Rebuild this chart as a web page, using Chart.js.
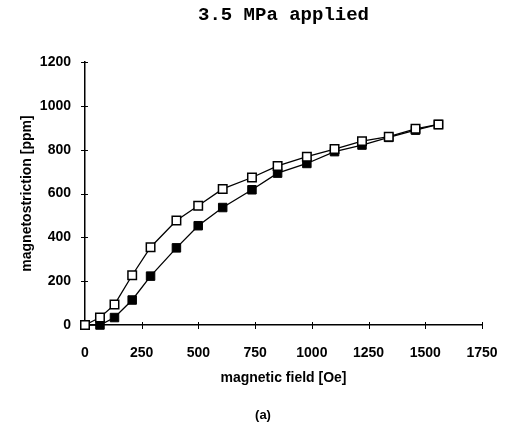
<!DOCTYPE html>
<html>
<head>
<meta charset="utf-8">
<title>3.5 MPa applied</title>
<script src="https://cdn.jsdelivr.net/npm/chart.js@4/dist/chart.umd.min.js"></script>
<style>
    html, body { margin: 0; padding: 0; background: #fff; overflow: hidden; }
    #wrap { width: 505px; height: 425px; position: relative; }
    #magChart { display: block; }
</style>
</head>
<body>
<div id="wrap"><canvas id="magChart"></canvas></div>
<script>
// ========================================
// DATA
// ========================================

const fieldOe = [0, 66, 130, 208, 289, 403, 499, 607, 736, 849, 978, 1100, 1221, 1339, 1457, 1558];
const openSeries = [0, 34, 93, 227, 355, 477, 544, 621, 673, 726, 768, 803, 839, 859, 895, 915];
const filledSeries = [0, 0, 34, 114, 223, 352, 453, 536, 617, 693, 737, 791, 821, 856, 889, 915];

const xTicks = [0, 250, 500, 750, 1000, 1250, 1500, 1750];
const yTicks = [0, 200, 400, 600, 800, 1000, 1200];

const chartTitle = '3.5 MPa applied';
const xTitle = 'magnetic field [Oe]';
const yTitle = 'magnetostriction [ppm]';
const caption = '(a)';

// ========================================
// HELPERS
// ========================================

function toPoints(xs, ys) {
    return xs.map((x, i) => ({ x: x, y: ys[i] }));
}

const labelFont = { family: '"Liberation Sans", Arial, sans-serif', size: 14, weight: 'bold' };

// crossing tick marks (under the markers), title centred over the plot, caption below
const extrasPlugin = {
    id: 'extras',
    beforeDatasetsDraw(chart) {
        const ctx = chart.ctx;
        const xs = chart.scales.x;
        const ys = chart.scales.y;
        const area = chart.chartArea;
        ctx.save();
        ctx.strokeStyle = '#000';
        ctx.lineWidth = 1;
        ctx.beginPath();
        xTicks.forEach(v => {
            const px = Math.round(xs.getPixelForValue(v)) + 0.5;
            ctx.moveTo(px, area.bottom + 4);
            ctx.lineTo(px, area.bottom - 3);
        });
        yTicks.forEach(v => {
            const py = Math.round(ys.getPixelForValue(v)) + 0.5;
            ctx.moveTo(area.left - 4, py);
            ctx.lineTo(area.left + 3, py);
        });
        ctx.stroke();
        ctx.restore();
    },
    afterDraw(chart) {
        const ctx = chart.ctx;
        const area = chart.chartArea;
        ctx.save();
        ctx.fillStyle = '#000';
        ctx.textAlign = 'center';
        ctx.textBaseline = 'middle';

        ctx.font = 'bold 19px "Liberation Mono", "Courier New", monospace';
        ctx.fillText(chartTitle, (area.left + area.right) / 2, 15);

        ctx.font = 'bold 13px "Liberation Sans", Arial, sans-serif';
        ctx.fillText(caption, 263, 415);
        ctx.restore();
    }
};

// ========================================
// CHART
// ========================================

const ctx = document.getElementById('magChart');
new Chart(ctx, {
    type: 'scatter',
    data: {
        datasets: [
            {
                label: 'open',
                data: toPoints(fieldOe, openSeries),
                showLine: true,
                clip: false,
                borderColor: '#000',
                borderWidth: 1.3,
                pointStyle: 'rect',
                pointRadius: 6,
                pointBorderWidth: 1.5,
                pointBackgroundColor: '#fff',
                pointBorderColor: '#000',
                tension: 0
            },
            {
                label: 'filled',
                data: toPoints(fieldOe, filledSeries),
                showLine: true,
                clip: false,
                borderColor: '#000',
                borderWidth: 1.3,
                pointStyle: 'rect',
                pointRadius: 6,
                pointBorderWidth: 1,
                pointBackgroundColor: '#000',
                pointBorderColor: '#000',
                tension: 0
            }
        ]
    },
    options: {
        responsive: true,
        maintainAspectRatio: false,
        animation: false,
        layout: { padding: { left: 0, right: 23, top: 62, bottom: 0 } },
        plugins: {
            legend: { display: false },
            tooltip: { enabled: false },
            title: { display: false }
        },
        scales: {
            x: {
                type: 'linear',
                min: 0,
                max: 1750,
                afterFit: scale => { scale.height = 100; },
                afterBuildTicks: scale => { scale.ticks = xTicks.map(v => ({ value: v })); },
                border: { display: true, color: '#000', width: 1.5 },
                grid: { display: true, drawOnChartArea: false, color: 'rgba(0,0,0,0)', tickLength: 20 },
                ticks: { color: '#000', font: labelFont, padding: 0, maxRotation: 0,
                         callback: v => String(v) },
                title: {
                    display: true,
                    text: xTitle,
                    color: '#000',
                    font: labelFont,
                    padding: { top: 0, bottom: 38 }
                }
            },
            y: {
                type: 'linear',
                min: 0,
                max: 1200,
                afterFit: scale => { scale.width = 85; },
                afterBuildTicks: scale => { scale.ticks = yTicks.map(v => ({ value: v })); },
                border: { display: true, color: '#000', width: 1.5 },
                grid: { display: true, drawOnChartArea: false, color: 'rgba(0,0,0,0)', tickLength: 5 },
                ticks: { color: '#000', font: labelFont, padding: 9,
                         callback: v => String(v) },
                title: {
                    display: true,
                    text: yTitle,
                    color: '#000',
                    font: labelFont,
                    padding: { top: 19, bottom: 0 }
                }
            }
        }
    },
    plugins: [extrasPlugin]
});
</script>
</body>
</html>
